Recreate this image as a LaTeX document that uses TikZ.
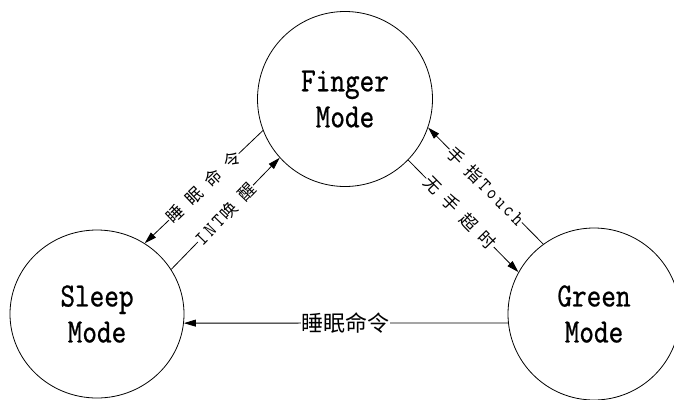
\documentclass[tikz,border=0pt]{standalone}
\usepackage{fontspec}
\usetikzlibrary{arrows.meta,shapes.geometric}
\newfontfamily\monoA[FakeStretch=0.82,FakeBold=0.6]{lmmono10-regular.otf}
\newfontfamily\monoB[FakeStretch=0.85]{lmmono10-regular.otf}
\newfontfamily\cjk{Noto Sans CJK SC}
\newcommand\chsp{\hspace{9pt}}
\newcommand\ltsp{\hspace{3pt}}
\newcommand\latn[1]{{\monoB\fontsize{20}{20}\selectfont #1}}
\begin{document}
\begin{tikzpicture}[x=1pt,y=-1pt,
  st/.style={draw,line width=0.8pt,inner sep=0pt,align=center,font=\monoA\fontsize{34}{36}\selectfont},
  lab/.style={fill=white,inner sep=0.5pt,font=\cjk\fontsize{17}{20}\selectfont},
  conn/.style={line width=0.8pt,-{Triangle[length=12pt,width=7pt]}}]
\fill[white] (0,0) rectangle (674,399);
\clip (0,0) rectangle (674,399);
\node[st,circle,minimum size=175pt] (F) at (345,99) {Finger\\Mode};
\node[st,ellipse,minimum width=174pt,minimum height=168pt] (S) at (97,314) {Sleep\\Mode};
\node[st,circle,minimum size=172pt] (G) at (594,314) {Green\\Mode};
\draw[conn] (F.201) -- node[lab,sloped,pos=0.5] {睡\chsp 眠\chsp 命\chsp 令} (S.56);
\draw[conn] (S.31.7) -- node[lab,sloped,pos=0.5] {\latn{I\ltsp N\ltsp T}\hspace{2pt}唤\chsp 醒} (F.222);
\draw[conn] (G.126.5) -- node[lab,sloped,pos=0.5] {手\chsp 指\hspace{2pt}\latn{T\ltsp o\ltsp u\ltsp c\ltsp h}} (F.341);
\draw[conn] (F.316) -- node[lab,sloped,pos=0.47] {无\chsp 手\chsp 超\chsp 时} (G.151.7);
\draw[conn] (G.186) -- node[lab,pos=0.5,font=\cjk\fontsize{22}{24}\selectfont] {睡眠命令} (S.354);
\end{tikzpicture}
\end{document}
